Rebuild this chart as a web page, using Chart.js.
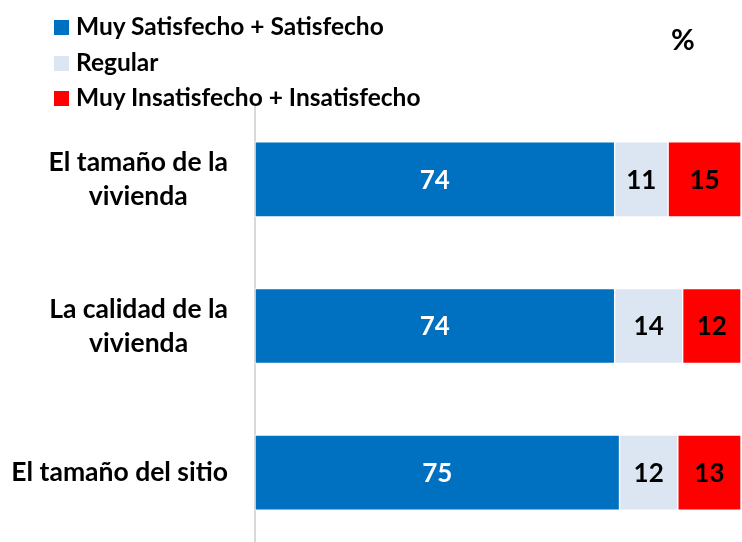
<!DOCTYPE html>
<html lang="es">
<head>
<meta charset="UTF-8">
<title>Satisfacción con la vivienda</title>
<script src="https://cdn.jsdelivr.net/npm/chart.js"></script>
<style>
  body { margin: 0; font-family: Lato, sans-serif; background: #fff; }
  #wrap { position: relative; width: 742px; height: 542px; overflow: hidden; }
  .leyenda { position: absolute; left: 54px; top: 8px; font-weight: bold; font-size: 24.5px; color: #000; }
  .leyenda div { height: 35.5px; line-height: 35px; white-space: nowrap; }
  .leyenda span { display: inline-block; width: 15px; height: 15px; margin-right: 7px; vertical-align: 0px; }
  .pct { position: absolute; left: 671px; top: 21px; font-weight: bold; font-size: 29px; }
</style>
</head>
<body>
<div id="wrap">
  <canvas id="grafico" width="742" height="546"></canvas>
  <div class="leyenda" id="leyenda"></div>
  <div class="pct">%</div>
</div>
<script>
const categorias = [["El tamaño de la", "vivienda"], ["La calidad de la", "vivienda"], ["El tamaño del sitio"]];
const series = ["Muy Satisfecho + Satisfecho", "Regular", "Muy Insatisfecho + Insatisfecho"];
const satisfecho = [74, 74, 75];
const regular = [11, 14, 12];
const insatisfecho = [15, 12, 13];
const colores = ["#0070C0", "#DCE6F2", "#FF0000"];
const coloresTexto = ["#fff", "#000", "#000"];

// leyenda en html, una por fila
const ley = document.getElementById("leyenda");
series.forEach((s, i) => {
  const d = document.createElement("div");
  d.innerHTML = `<span style="background:${colores[i]}"></span>${s}`;
  ley.appendChild(d);
});

// etiquetas de categorias y valores dentro de las barras
const etiquetas = {
  id: "etiquetas",
  afterDatasetsDraw(chart) {
    const ctx = chart.ctx;
    const y = chart.scales.y;
    ctx.save();
    ctx.font = "bold 26.5px Lato";
    ctx.fillStyle = "#000";
    ctx.textAlign = "center";
    ctx.textBaseline = "middle";
    categorias.forEach((lineas, i) => {
      const cy = y.getPixelForValue(i);
      let w = 0;
      lineas.forEach(l => { w = Math.max(w, ctx.measureText(l).width); });
      const cx = 228 - w / 2;
      const alto = 34;
      lineas.forEach((l, j) => {
        ctx.fillText(l, cx, cy + (j - (lineas.length - 1) / 2) * alto);
      });
    });
    ctx.font = "bold 26px Lato";
    chart.data.datasets.forEach((ds, di) => {
      chart.getDatasetMeta(di).data.forEach((bar, i) => {
        ctx.fillStyle = coloresTexto[di];
        ctx.fillText(ds.data[i], (bar.x + bar.base) / 2, bar.y + 1);
      });
    });
    ctx.restore();
  }
};

new Chart(document.getElementById("grafico"), {
  type: "bar",
  data: {
    labels: categorias,
    datasets: [
      { label: series[0], data: satisfecho, backgroundColor: colores[0] },
      { label: series[1], data: regular, backgroundColor: colores[1] },
      { label: series[2], data: insatisfecho, backgroundColor: colores[2] }
    ].map(d => Object.assign(d, { borderColor: "#fff", borderWidth: 1, borderSkipped: false, barThickness: 75 }))
  },
  options: {
    indexAxis: "y",
    responsive: false,
    animation: false,
    layout: { padding: { top: 106, right: 1, bottom: 0, left: 0 } },
    plugins: { legend: { display: false }, tooltip: { enabled: false } },
    scales: {
      x: { stacked: true, min: 0, max: 100, display: false },
      y: {
        stacked: true,
        grid: { display: false },
        ticks: { display: false },
        border: { color: "#d9d9d9", width: 2 },
        afterFit(s) { s.width = 255; }
      }
    }
  },
  plugins: [etiquetas]
});
</script>
</body>
</html>
